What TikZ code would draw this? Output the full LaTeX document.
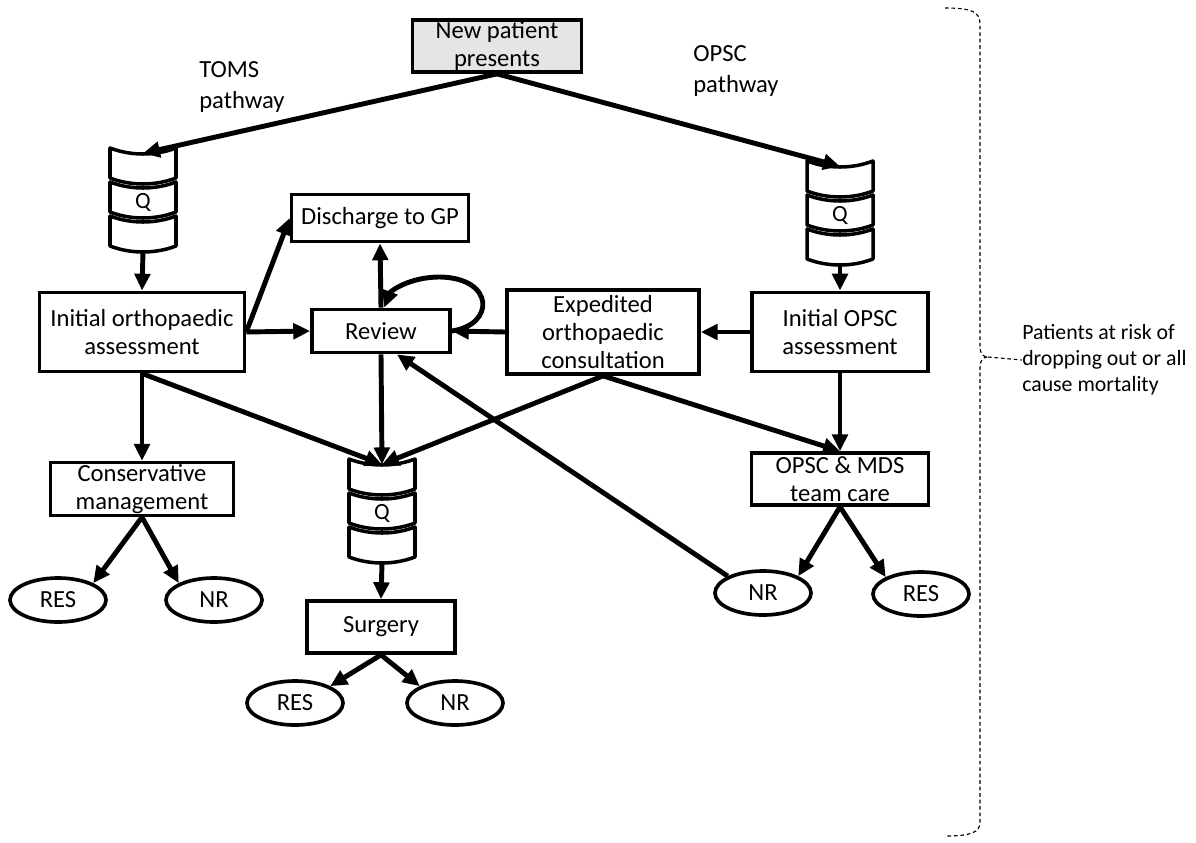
\documentclass[tikz,border=0pt]{standalone}
\usepackage{fontspec}
\setmainfont{Carlito}
\usepackage{tikz}
\usetikzlibrary{arrows.meta}
\usetikzlibrary{shapes.geometric}
\tikzset{->/.style = {-{Triangle[length=12pt, width=11pt]}, line width=3.5pt}}
\tikzset{box/.style = {draw, line width=2.6pt, align=center, inner sep=0,
                       font=\fontsize{17.5}{20}\selectfont}}
\tikzset{outcome/.style = {draw, ellipse, line width=2.6pt, inner sep=0,
                           minimum width=2.4cm, minimum height=1.1cm,
                           font=\fontsize{17.5}{20}\selectfont}}
\tikzset{slice/.style = {draw, line width=2.5pt, line join=round}}
\tikzset{qnode/.style = {inner sep=0, minimum width=1.65cm, minimum height=2.45cm,
                         font=\fontsize{16.5}{19}\selectfont}}
\tikzset{pathlabel/.style = {align=left, inner sep=0, anchor=west,
                             font=\fontsize{17.5}{22}\selectfont}}
\tikzset{brace/.style = {line width=0.8pt, dash pattern=on 2.6pt off 2pt}}
\definecolor{lgrey}{rgb}{0.9, 0.9, 0.9}
\newcommand{\qstack}[2]{%
  \begin{scope}[shift={(#2)}]
    \foreach \t in {-49, -15, 19}
      \draw[slice] (-33, \t) .. controls (-12, \t+8) and (12, \t+8) .. (33, \t)
        -- (33, \t+30) .. controls (12, \t+38) and (-12, \t+38) .. (-33, \t+30) -- cycle;
  \end{scope}
  \node[qnode, yshift=-0.14cm] (#1) at (#2) {Q};}

\begin{document}
\begin{tikzpicture}[x=0.025cm, y=-0.025cm]
  \useasboundingbox (0, 0) rectangle (1196, 842);
  % entry and the two pathways
  \node[box, fill=lgrey, minimum width=4.22cm, minimum height=1.3cm] (new) at (497, 46) {New patient\\presents};
  \node[pathlabel] (toms) at (199, 87) {TOMS\\pathway};
  \node[pathlabel] (opsc) at (693, 71) {OPSC\\pathway};
  % queues
  \qstack{q1}{143, 197}
  \qstack{q2}{840, 210}
  \qstack{q3}{382, 508}
  % steps
  \node[box, minimum width=5.12cm, minimum height=1.98cm] (ortho) at (142, 332) {Initial orthopaedic\\assessment};
  \node[box, minimum width=4.42cm, minimum height=1.18cm] (gp) at (380, 218) {Discharge to GP};
  \node[box, minimum width=3.45cm, minimum height=1.08cm] (review) at (381, 331) {Review};
  \node[box, minimum width=4.8cm, minimum height=2.1cm] (expedite) at (603, 332) {Expedited\\orthopaedic\\consultation};
  \node[box, minimum width=4.4cm, minimum height=1.98cm] (opscinit) at (840, 332) {Initial OPSC\\assessment};
  \node[box, minimum width=4.58cm, minimum height=1.32cm] (cons) at (142, 489) {Conservative\\management};
  \node[box, minimum width=4.42cm, minimum height=1.3cm] (mds) at (840, 479) {OPSC \& MDS\\team care};
  \node[box, minimum width=3.7cm, minimum height=1.3cm] (surg) at (381, 627) {Surgery};
  % outcomes
  \node[outcome] (cres) at (58, 600) {RES};
  \node[outcome] (cnr) at (214, 600) {NR};
  \node[outcome] (sres) at (295, 703) {RES};
  \node[outcome] (snr) at (455, 703) {NR};
  \node[outcome] (mnr) at (763, 593) {NR};
  \node[outcome] (mres) at (921, 594) {RES};
  % flows
  \draw[->] (new.south) -- (q1.north);
  \draw[->] (new.south) -- (q2.north);
  \draw[->] (q1.south) -- (ortho.north);
  \draw[->] (q2.south) -- (opscinit.north);
  \draw[->] (ortho.east) -- (gp.west);
  \draw[->] (ortho.east) -- (review.west);
  \draw[->] (review.north) -- (gp.south);
  \draw[->] (review.east) .. controls (495, 325) and (495, 278) .. (440, 277)
    .. controls (408, 277) and (390, 292) .. ([xshift=0.08cm]review.north);
  \draw[->] (expedite.west) -- (review.east);
  \draw[->] (opscinit.west) -- (expedite.east);
  \draw[->] (ortho.south) -- (cons.north);
  \draw[->] (ortho.south) -- (q3.north);
  \draw[->] (review.south) -- (q3.north);
  \draw[->] (expedite.south) -- (q3.north);
  \draw[->] (expedite.south) -- (mds.north);
  \draw[->] (opscinit.south) -- (mds.north);
  \draw[->] (q3.south) -- (surg.north);
  \draw[->] (cons.south) -- (cres.north east);
  \draw[->] (cons.south) -- (cnr.north west);
  \draw[->] (surg.south) -- (sres.north east);
  \draw[->] (surg.south) -- (snr.north west);
  \draw[->] (mds.south) -- (mnr.north east);
  \draw[->] (mds.south) -- (mres.north west);
  \draw[->] (mnr.north west) -- ([xshift=0.4cm]review.south);
  % brace round the whole pathway
  \coordinate (tip) at (988, 357);
  \draw[brace] (945, 8) .. controls (972, 8) and (980, 12) .. (980, 24) -- (980, 346)
    .. controls (980, 354) and (983, 357) .. (tip)
    .. controls (983, 357) and (980, 360) .. (980, 368) -- (980, 822)
    .. controls (980, 832) and (972, 836) .. (945, 836);
  \node[align=left, anchor=west, inner sep=0, font=\fontsize{15.5}{18.5}\selectfont] (risk) at (1022, 360)
    {Patients at risk of\\dropping out or all\\cause mortality};
  \draw[brace] (tip) -- (risk.west);
\end{tikzpicture}
\end{document}
